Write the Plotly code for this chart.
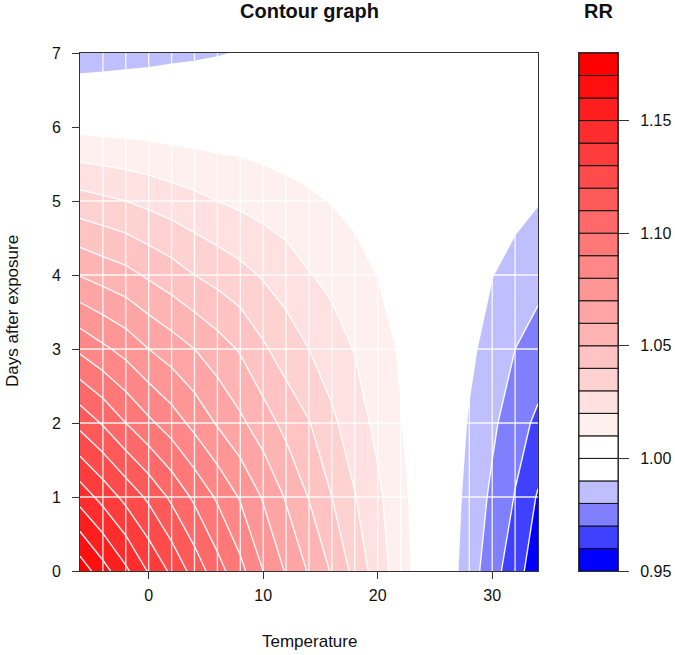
import plotly.graph_objects as go

temps = [-6, -4, -2, 0, 2, 4, 6, 8, 10, 12, 14, 16, 18, 20, 22, 24, 26, 28, 30, 32, 34]
lags = [0, 1, 2, 3, 4, 5, 6, 7]

rr_lag0 = [1.176, 1.164, 1.152, 1.139, 1.128, 1.116, 1.104, 1.093, 1.080, 1.069, 1.059, 1.049, 1.037, 1.025, 1.0145, 1.005, 0.995, 0.985, 0.974, 0.964, 0.954]
rr_lag1 = [1.146, 1.1365, 1.127, 1.118, 1.108, 1.098, 1.0885, 1.079, 1.069, 1.059, 1.0495, 1.040, 1.0305, 1.022, 1.013, 1.0045, 0.9955, 0.987, 0.978, 0.9695, 0.959]
rr_lag2 = [1.117, 1.109, 1.100, 1.092, 1.085, 1.077, 1.069, 1.062, 1.0545, 1.047, 1.0405, 1.032, 1.0245, 1.0175, 1.0105, 1.004, 0.997, 0.989, 0.982, 0.974, 0.968]
rr_lag3 = [1.088, 1.082, 1.0765, 1.070, 1.065, 1.060, 1.0545, 1.049, 1.0415, 1.035, 1.030, 1.0245, 1.0195, 1.0145, 1.009, 1.003, 0.997, 0.992, 0.986, 0.980, 0.9757]
rr_lag4 = [1.0595, 1.056, 1.053, 1.0485, 1.0445, 1.040, 1.0365, 1.033, 1.029, 1.0255, 1.0205, 1.0175, 1.0135, 1.0098, 1.006, 1.002, 0.998, 0.9945, 0.9902, 0.987, 0.983]
rr_lag5 = [1.034, 1.032, 1.030, 1.0275, 1.025, 1.0225, 1.020, 1.018, 1.016, 1.0137, 1.0115, 1.0095, 1.0075, 1.005, 1.003, 1.0005, 0.998, 0.996, 0.994, 0.9925, 0.9905]
rr_lag6 = [1.0073, 1.0069, 1.0065, 1.006, 1.0053, 1.005, 1.0046, 1.0047, 1.0038, 1.0031, 1.0035, 1.003, 1.003, 1.002, 1.0015, 1.0005, 0.9995, 0.9985, 0.998, 0.997, 0.996]
rr_lag7 = [0.9832, 0.9841, 0.9851, 0.986, 0.9873, 0.9881, 0.9892, 0.9905, 0.992, 0.9935, 0.995, 0.996, 0.997, 0.998, 0.999, 0.9995, 1.000, 1.000, 0.9995, 0.999, 0.998]
rr = [rr_lag0, rr_lag1, rr_lag2, rr_lag3, rr_lag4, rr_lag5, rr_lag6, rr_lag7]

level_start, level_end, level_size = 0.95, 1.18, 0.01
n_bands = 23
band_bottoms = [0.95 + 0.01 * k for k in range(n_bands)]
band_colors = ["#0000ff", "#4040ff", "#8080ff", "#bfbfff", "#ffffff", "#ffffff"] + [
    "#ff{0:02x}{0:02x}".format(round(255 * (1 - i / 17))) for i in range(1, 18)
]
rr_ticks = [0.95, 1.00, 1.05, 1.10, 1.15]

W, H = 675, 655
PX0, PX1, PY_TOP, PY_BOT = 80, 538, 53, 571
BX0, BX1 = 579, 618
AXC = "#333333"
FONT = "Liberation Sans"

# plotly colours a band by its mid-level: band k sits at (k+1)/(levels+1) of the scale
n_levels = n_bands + 1
scale = [[0, band_colors[0]]]
for k, c in enumerate(band_colors):
    scale.append([(k + 1) / n_levels, c])
scale.append([1, band_colors[-1]])

fig = go.Figure()
fig.add_trace(go.Contour(
    x=temps, y=lags, z=rr,
    autocontour=False,
    contours=dict(coloring="fill", start=level_start, end=level_end, size=level_size),
    colorscale=scale, showscale=False,
    line=dict(color="rgba(255,255,255,0.95)", width=1.4, smoothing=0),
    hoverinfo="skip",
))

seam_x, seam_y = [], []
for t in temps[1:-1]:
    seam_x += [t, t, None]
    seam_y += [lags[0], lags[-1], None]
for l in lags[1:-1]:
    seam_x += [temps[0], temps[-1], None]
    seam_y += [l, l, None]
fig.add_trace(go.Scatter(x=seam_x, y=seam_y, mode="lines",
                         line=dict(color="rgba(255,255,255,0.9)", width=1.3),
                         hoverinfo="skip", showlegend=False))

fig.add_trace(go.Bar(
    x=[0] * n_bands, y=[0.01] * n_bands, base=band_bottoms, width=1,
    marker=dict(color=band_colors, line=dict(color="#111111", width=1)),
    xaxis="x2", yaxis="y2", hoverinfo="skip", showlegend=False,
))

def px_x(p):
    return p / W

def px_y(p):
    return 1 - p / H

axis_common = dict(showgrid=False, zeroline=False, showline=True, linecolor=AXC, linewidth=1,
                   mirror=True, ticks="outside", tickcolor=AXC, tickwidth=1,
                   tickfont=dict(family=FONT, size=16, color="#111111"))

def label(text, x, y, size, angle=0):
    return dict(text=text, x=px_x(x), y=px_y(y), xref="paper", yref="paper", xanchor="center",
                yanchor="middle", showarrow=False, textangle=angle,
                font=dict(size=size, family=FONT))

fig.update_layout(
    width=W, height=H, autosize=False,
    margin=dict(l=0, r=0, t=0, b=0, autoexpand=False),
    paper_bgcolor="white", plot_bgcolor="white",
    font=dict(family=FONT, color="#111111"),
    barmode="overlay",
    showlegend=False,
    xaxis=dict(domain=[px_x(PX0), px_x(PX1)], range=[temps[0], temps[-1]],
               tickvals=[0, 10, 20, 30], ticklen=7, ticklabelstandoff=3, anchor="y", **axis_common),
    yaxis=dict(domain=[px_y(PY_BOT), px_y(PY_TOP)], range=[lags[0], lags[-1]],
               tickvals=lags, ticklen=7, ticklabelstandoff=8, anchor="x", **axis_common),
    xaxis2=dict(domain=[px_x(BX0), px_x(BX1)], range=[-0.5, 0.5], showticklabels=False,
                ticks="", showgrid=False, zeroline=False, showline=True, linecolor=AXC,
                mirror=True, anchor="y2"),
    yaxis2=dict(domain=[px_y(PY_BOT), px_y(PY_TOP)], range=[level_start, level_end],
                tickvals=rr_ticks, tickformat=".2f", ticklen=10, ticklabelstandoff=8, side="right",
                anchor="x2", **axis_common),
    annotations=[
        label("<b>Contour graph</b>", 309.5, 11, 20),
        label("<b>RR</b>", 598, 11, 20),
        label("Temperature", 309.5, 641, 17),
        label("Days after exposure", 12, 311, 17, -90),
    ],
)

fig.write_html("out.html", config=dict(displayModeBar=False),
               post_script="document.body.style.margin='0';")
